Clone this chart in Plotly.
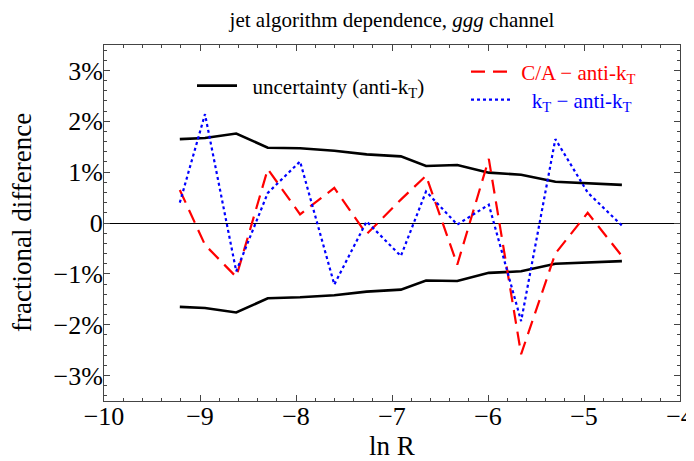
import numpy as np
import plotly.graph_objects as go

# ---- data ----
R_values = [1e-4, 1.3e-4, 1.8e-4, 2.5e-4, 3.5e-4, 5e-4, 7e-4, 1e-3,
            1.3e-3, 1.8e-3, 2.5e-3, 3.5e-3, 5e-3, 7e-3, 1e-2]
lnR = list(np.log(R_values))

unc_upper = [1.65, 1.67, 1.76, 1.48, 1.47, 1.42, 1.35, 1.31,
             1.12, 1.14, 0.99, 0.95, 0.81, 0.78, 0.75]
unc_lower = [-1.65, -1.67, -1.76, -1.48, -1.46, -1.42, -1.35, -1.31,
             -1.13, -1.14, -0.98, -0.95, -0.80, -0.78, -0.75]
ca_minus_antikt = [0.65, -0.43, -1.06, 1.06, 0.17, 0.69, -0.22, 0.46,
                   0.93, -0.82, 1.26, -2.58, -0.60, 0.20, -0.65]
kt_minus_antikt = [0.40, 2.14, -0.95, 0.59, 1.21, -1.21, 0.03, -0.65,
                   0.62, -0.03, 0.36, -1.93, 1.65, 0.60, -0.05]

x_tickvals = [-10, -9, -8, -7, -6, -5, -4]
x_ticktext = ["\u221210", "\u22129", "\u22128", "\u22127", "\u22126", "\u22125", "\u22124"]
y_tickvals = [-3, -2, -1, 0, 1, 2, 3]
y_ticktext = ["\u22123%", "\u22122%", "\u22121%", "0", "1%", "2%", "3%"]

FONT = "Liberation Serif"
# the page body adds an 8px margin, so the figure is 8px smaller than the window
W, H = 686, 453
L, Rm, T, B = 96, 14, 37, 60
PX0, PX1, PY0, PY1 = 104, 680, 45, 401   # plot area in window pixels


def px_x(p):
    return (p - PX0) / (PX1 - PX0)


def px_y(p):
    return (PY1 - p) / (PY1 - PY0)


fig = go.Figure()

fig.add_trace(go.Scatter(
    x=lnR, y=unc_upper, mode="lines",
    line=dict(color="black", width=2.6),
    name="  uncertainty (anti-k<sub>T</sub>)", legend="legend"))
fig.add_trace(go.Scatter(
    x=lnR, y=unc_lower, mode="lines",
    line=dict(color="black", width=2.6),
    showlegend=False))
fig.add_trace(go.Scatter(
    x=lnR, y=ca_minus_antikt, mode="lines",
    line=dict(color="#ff0000", width=2.2, dash="14px,8px"),
    name='<span style="color:#ff0000"> C/A \u2212 anti-k<sub>T</sub></span>',
    legend="legend2"))
fig.add_trace(go.Scatter(
    x=lnR, y=kt_minus_antikt, mode="lines",
    line=dict(color="#0000ff", width=2.2, dash="dot"),
    name='<span style="color:#0000ff">   k<sub>T</sub> \u2212 anti-k<sub>T</sub></span>',
    legend="legend3"))

leg_common = dict(bgcolor="rgba(0,0,0,0)", borderwidth=0,
                  font=dict(family=FONT, size=21, color="black"),
                  xanchor="left", yanchor="middle", itemwidth=40)

fig.update_layout(
    width=W, height=H,
    margin=dict(l=L, r=Rm, t=T, b=B, autoexpand=False),
    paper_bgcolor="white", plot_bgcolor="white",
    font=dict(family=FONT, color="black"),
    title=dict(text="jet algorithm dependence, <i>ggg</i> channel",
               font=dict(family=FONT, size=21, color="black"),
               x=px_x(392), xref="paper", xanchor="center",
               y=1 - 12 / H, yref="container", yanchor="middle"),
    legend=dict(x=px_x(192), y=px_y(86), **leg_common),
    legend2=dict(x=px_x(466), y=px_y(72), **leg_common),
    legend3=dict(x=px_x(466), y=px_y(100), **leg_common),
    xaxis=dict(range=[-10, -4], tickvals=x_tickvals, ticktext=x_ticktext,
               ticks="inside", ticklen=6, tickwidth=1, tickcolor="#444",
               showline=True, linecolor="#444", linewidth=1, mirror="allticks",
               showgrid=False, zeroline=False, ticklabelstandoff=-8,
               automargin=False,
               tickfont=dict(family=FONT, size=26, color="black"),
               minor=dict(ticks="inside", ticklen=3, dtick=0.2, tick0=-10,
                          tickcolor="#444", showgrid=False)),
    yaxis=dict(range=[-3.5, 3.5], tickvals=y_tickvals, ticktext=y_ticktext,
               ticks="inside", ticklen=6, tickwidth=1, tickcolor="#444",
               showline=True, linecolor="#444", linewidth=1, mirror="allticks",
               showgrid=False, zeroline=True, zerolinecolor="black", zerolinewidth=1,
               ticklabelstandoff=-5, automargin=False,
               tickfont=dict(family=FONT, size=26, color="black"),
               minor=dict(ticks="inside", ticklen=3, dtick=0.2, tick0=0,
                          tickcolor="#444", showgrid=False)),
    annotations=[
        dict(text="ln R", xref="paper", yref="paper",
             x=px_x(392), y=px_y(446), xanchor="center", yanchor="middle",
             showarrow=False, font=dict(family=FONT, size=27, color="black")),
        dict(text="fractional difference", xref="paper", yref="paper",
             x=px_x(22), y=px_y(223), xanchor="center", yanchor="middle",
             textangle=-90, showarrow=False,
             font=dict(family=FONT, size=27, color="black")),
    ],
)

fig.write_html("out.html")
